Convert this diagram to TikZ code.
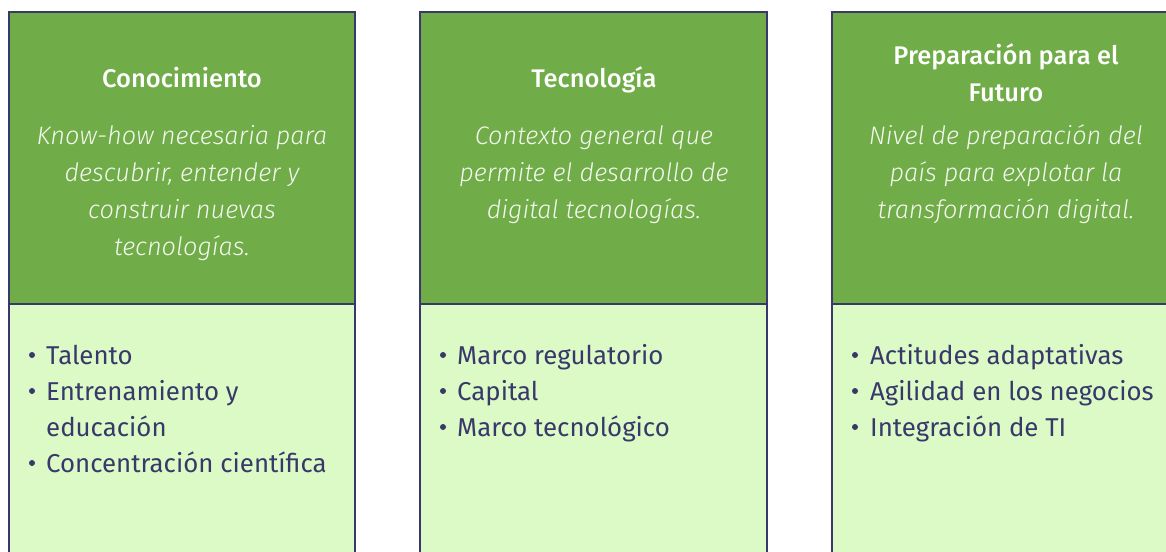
\documentclass[tikz,border=0pt]{standalone}
\usepackage{fontspec}
\setmainfont{Fira Sans}
\newfontfamily\descfont{Fira Sans Light Italic}
\newfontfamily\titlefont{Fira Sans Medium}
\definecolor{hgreen}{HTML}{70AC47}
\definecolor{lgreen}{HTML}{DBFAC5}
\definecolor{navy}{HTML}{39386A}
\begin{document}
\begin{tikzpicture}[x=1pt,y=-1pt,
  topbox/.style={fill=hgreen,draw=navy,line width=1.8pt},
  botbox/.style={fill=lgreen,draw=navy,line width=1.8pt},
  title/.style={text=white,font=\titlefont\fontsize{25.5}{37}\selectfont,align=center,inner sep=0pt,anchor=base},
  desc/.style={text=white!92!hgreen,font=\descfont\fontsize{25.3}{37}\selectfont,align=center,inner sep=0pt,anchor=base},
  item/.style={text=navy,font=\fontsize{25.8}{36}\selectfont,align=left,inner sep=0pt,anchor=base west},
  dot/.style={circle,fill=navy,inner sep=0pt,minimum size=6pt}]
\useasboundingbox (0,0) rectangle (1166,551);
\begin{scope}
\clip (0,0) rectangle (1166,551);
\foreach \l/\r in {9/355,420/767,832/1190}{
  \draw[botbox] (\l,304) rectangle (\r,580);
  \draw[topbox] (\l,12) rectangle (\r,304);
}
\end{scope}
% titles
\node[title] (t1) at (182,87) {Conocimiento};
\node[title] (t2) at (594,87) {Tecnología};
\node[title] (t3) at (1006,101) {Preparación para el\\Futuro};
% descriptions (base = baseline of last line)
\node[desc] (d1) at (182,255) {Know-how necesaria para\\descubrir, entender y\\construir nuevas\\tecnologías.};
\node[desc] (d2) at (594,218) {Contexto general que\\permite el desarrollo de\\digital tecnologías.};
\node[desc] (d3) at (1006,218) {Nivel de preparación del\\país para explotar la\\transformación digital.};
% items column 1
\node[item] (a1) at (46,364) {Talento};
\node[item] (a2) at (46,436) {Entrenamiento y\\educación};
\node[item] (a3) at (46,472) {Concentración científica};
% items column 2
\node[item] (b1) at (457,364) {Marco regulatorio};
\node[item] (b2) at (457,400) {Capital};
\node[item] (b3) at (457,436) {Marco tecnológico};
% items column 3
\node[item] (c1) at (870,364) {Actitudes adaptativas};
\node[item] (c2) at (870,400) {Agilidad en los negocios};
\node[item] (c3) at (870,436) {Integración de TI};
% bullets
\foreach \n/\x/\y in {a1/32/355,a2/32/391,a3/32/463,b1/443/355,b2/443/391,b3/443/427,c1/855/355,c2/855/391,c3/855/427}{
  \node[dot] (dot\n) at (\x,\y) {};
}
\end{tikzpicture}
\end{document}
